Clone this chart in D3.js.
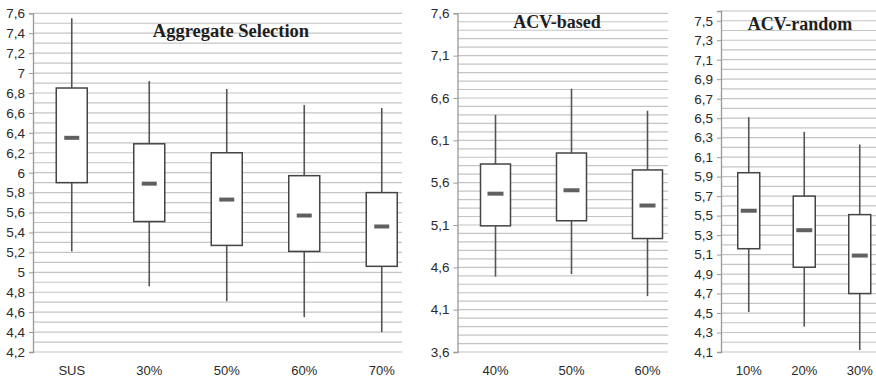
<!DOCTYPE html>
<html>
<head>
<meta charset="utf-8">
<script src="https://cdn.jsdelivr.net/npm/d3@7"></script>
<style>
  html, body { margin: 0; padding: 0; background: #fff; }
  svg { display: block; }
</style>
</head>
<body>
<svg id="chart" width="876" height="378"></svg>
<script>
// Aggregate Selection
const aggCategories = ["SUS", "30%", "50%", "60%", "70%"];
const aggMin    = [5.21, 4.86, 4.71, 4.55, 4.40];
const aggQ1     = [5.90, 5.51, 5.27, 5.21, 5.06];
const aggMedian = [6.35, 5.89, 5.73, 5.57, 5.46];
const aggQ3     = [6.85, 6.29, 6.20, 5.97, 5.80];
const aggMax    = [7.55, 6.92, 6.84, 6.68, 6.65];
const aggTicks  = [4.2, 4.4, 4.6, 4.8, 5, 5.2, 5.4, 5.6, 5.8, 6, 6.2, 6.4, 6.6, 6.8, 7, 7.2, 7.4, 7.6];

// ACV-based
const basedCategories = ["40%", "50%", "60%"];
const basedMin    = [4.49, 4.52, 4.26];
const basedQ1     = [5.09, 5.15, 4.94];
const basedMedian = [5.47, 5.51, 5.33];
const basedQ3     = [5.82, 5.95, 5.75];
const basedMax    = [6.40, 6.71, 6.45];
const basedTicks  = [3.6, 4.1, 4.6, 5.1, 5.6, 6.1, 6.6, 7.1, 7.6];

// ACV-random
const randomCategories = ["10%", "20%", "30%"];
const randomMin    = [4.51, 4.36, 4.12];
const randomQ1     = [5.16, 4.97, 4.70];
const randomMedian = [5.55, 5.35, 5.09];
const randomQ3     = [5.94, 5.70, 5.51];
const randomMax    = [6.51, 6.36, 6.23];
const randomTicks  = [4.1, 4.3, 4.5, 4.7, 4.9, 5.1, 5.3, 5.5, 5.7, 5.9, 6.1, 6.3, 6.5, 6.7, 6.9, 7.1, 7.3, 7.5];

const svg = d3.select("#chart");
const fmt = v => String(+v.toFixed(2)).replace(".", ",");

function panel(opts) {
  const g = svg.append("g");
  const y = d3.scaleLinear().domain(opts.domain).range([opts.bottom, opts.top]);
  const x = d3.scaleBand().domain(opts.categories)
    .range([opts.left, opts.left + opts.band * opts.categories.length])
    .paddingInner(0).paddingOuter(0);

  // minor grid every 0.1
  const gridVals = d3.range(Math.round(opts.domain[0] * 10), Math.round(opts.domain[1] * 10) + 1).map(d => d / 10);
  g.append("g").selectAll("line").data(gridVals).join("line")
    .attr("x1", opts.left).attr("x2", opts.gridRight)
    .attr("y1", d => y(d)).attr("y2", d => y(d))
    .attr("stroke", "#c4c4c4").attr("stroke-width", 1.2);

  // y axis
  const axis = d3.axisLeft(y).tickValues(opts.ticks).tickFormat(fmt).tickSize(4).tickPadding(4);
  const ag = g.append("g").attr("transform", `translate(${opts.left},0)`).call(axis);
  ag.select(".domain").attr("stroke", "#999").attr("stroke-width", 1.3);
  ag.selectAll(".tick line").attr("stroke", "#999");
  ag.selectAll(".tick text")
    .attr("fill", "#2a2a2a").style("font-family", "Arial, 'Liberation Sans', sans-serif")
    .style("font-size", "13.5px");

  // x labels
  g.append("g").selectAll("text").data(opts.categories).join("text")
    .attr("x", d => x(d) + x.bandwidth() / 2).attr("y", 375)
    .attr("text-anchor", "middle").attr("fill", "#2a2a2a")
    .style("font-family", "Arial, 'Liberation Sans', sans-serif").style("font-size", "13px")
    .text(d => d);

  // boxes
  const rows = opts.categories.map((c, i) => ({
    c, min: opts.min[i], q1: opts.q1[i], med: opts.median[i], q3: opts.q3[i], max: opts.max[i]
  }));
  const bg = g.append("g").selectAll("g").data(rows).join("g")
    .attr("transform", d => `translate(${x(d.c) + x.bandwidth() / 2},0)`);
  bg.append("line").attr("x1", 0).attr("x2", 0)
    .attr("y1", d => y(d.max)).attr("y2", d => y(d.q3))
    .attr("stroke", "#555").attr("stroke-width", 1.6);
  bg.append("line").attr("x1", 0).attr("x2", 0)
    .attr("y1", d => y(d.q1)).attr("y2", d => y(d.min))
    .attr("stroke", "#555").attr("stroke-width", 1.6);
  bg.append("rect")
    .attr("x", -opts.boxW / 2).attr("width", opts.boxW)
    .attr("y", d => y(d.q3)).attr("height", d => y(d.q1) - y(d.q3))
    .attr("fill", "#fff").attr("stroke", "#444").attr("stroke-width", 1.5);
  bg.append("line")
    .attr("x1", -opts.medW / 2).attr("x2", opts.medW / 2)
    .attr("y1", d => y(d.med)).attr("y2", d => y(d.med))
    .attr("stroke", "#606060").attr("stroke-width", 4);

  // title
  g.append("text").attr("x", opts.titleX).attr("y", opts.titleY)
    .attr("text-anchor", "middle").attr("fill", "#1e1e1e")
    .style("font-family", "'Liberation Serif', 'Times New Roman', serif")
    .style("font-weight", "bold").style("font-size", opts.titleSize + "px")
    .text(opts.title);
}

panel({
  title: "Aggregate Selection", titleX: 231, titleY: 37, titleSize: 18.5,
  categories: aggCategories, min: aggMin, q1: aggQ1, median: aggMedian, q3: aggQ3, max: aggMax,
  ticks: aggTicks, domain: [4.2, 7.6], top: 13.3, bottom: 352,
  left: 33, band: 77.5, gridRight: 402, boxW: 31, medW: 15
});

panel({
  title: "ACV-based", titleX: 557, titleY: 28, titleSize: 18,
  categories: basedCategories, min: basedMin, q1: basedQ1, median: basedMedian, q3: basedQ3, max: basedMax,
  ticks: basedTicks, domain: [3.6, 7.6], top: 13.3, bottom: 352,
  left: 457.5, band: 76, gridRight: 668, boxW: 30, medW: 16
});

panel({
  title: "ACV-random", titleX: 800, titleY: 30, titleSize: 18,
  categories: randomCategories, min: randomMin, q1: randomQ1, median: randomMedian, q3: randomQ3, max: randomMax,
  ticks: randomTicks, domain: [4.1, 7.6], top: 11, bottom: 352,
  left: 721, band: 55.5, gridRight: 876, boxW: 22, medW: 16
});
</script>
</body>
</html>
